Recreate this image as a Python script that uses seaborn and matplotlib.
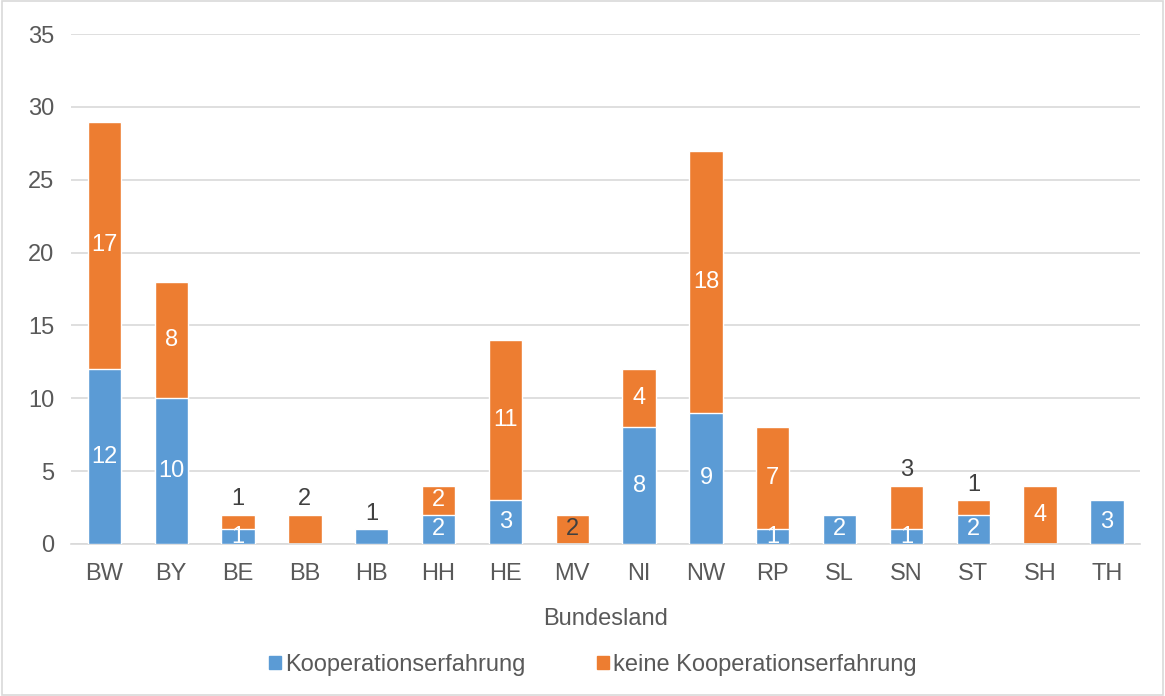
import pandas as pd
import seaborn as sns
import matplotlib.pyplot as plt
from matplotlib.patches import Patch, Rectangle

laender = ["BW", "BY", "BE", "BB", "HB", "HH", "HE", "MV",
           "NI", "NW", "RP", "SL", "SN", "ST", "SH", "TH"]
mit_koop = [12, 10, 1, 0, 1, 2, 3, 0, 8, 9, 1, 2, 1, 2, 0, 3]
ohne_koop = [17, 8, 1, 2, 0, 2, 11, 2, 4, 18, 7, 0, 3, 1, 4, 0]

# labels Excel placed above the bar instead of inside
label_oben_koop = ["HB"]
label_oben_ohne = ["BE", "BB", "SN", "ST"]

blau = "#5b9bd5"
orange = "#ed7d31"
grau = "#595959"

df = pd.DataFrame({"Bundesland": laender,
                   "Kooperationserfahrung": mit_koop,
                   "keine Kooperationserfahrung": ohne_koop})
df["gesamt"] = df["Kooperationserfahrung"] + df["keine Kooperationserfahrung"]

sns.set_style("white")
plt.rcParams["font.family"] = ["Liberation Sans", "DejaVu Sans"]

fig = plt.figure(figsize=(11.65, 6.96), dpi=100)
ax = fig.add_axes([0.0609, 0.2184, 0.918, 0.7326])

# stacked: total in orange, blue drawn over it
sns.barplot(data=df, x="Bundesland", y="gesamt", color=orange, width=0.5,
            saturation=1, ax=ax, zorder=2)
sns.barplot(data=df, x="Bundesland", y="Kooperationserfahrung", color=blau,
            width=0.5, saturation=1, ax=ax, zorder=3)

fs = 17
for i, row in df.iterrows():
    b = row["Kooperationserfahrung"]
    o = row["keine Kooperationserfahrung"]
    land = row["Bundesland"]
    if b > 0:
        if land in label_oben_koop:
            ax.text(i, b + 0.3, str(b), ha="center", va="bottom", fontsize=fs,
                    color="#404040", zorder=5)
        else:
            ax.text(i, b / 2, str(b), ha="center", va="center", fontsize=fs,
                    color="white", zorder=5)
    if o > 0:
        if land in label_oben_ohne:
            ax.text(i, b + o + 0.3, str(o), ha="center", va="bottom", fontsize=fs,
                    color="#404040", zorder=5)
        elif land == "MV":
            ax.text(i, b + o / 2, str(o), ha="center", va="center", fontsize=fs,
                    color="#404040", zorder=5)
        else:
            ax.text(i, b + o / 2, str(o), ha="center", va="center", fontsize=fs,
                    color="white", zorder=5)

ax.set_ylim(0, 35)
ax.set_xlim(-0.5, len(laender) - 0.5)
ax.set_yticks(range(0, 36, 5))
ax.yaxis.grid(True, color="#d9d9d9", linewidth=1.2, zorder=0)
ax.set_axisbelow(True)
for s in ["top", "right", "left"]:
    ax.spines[s].set_visible(False)
ax.spines["bottom"].set_color("#d9d9d9")
ax.spines["bottom"].set_linewidth(1.2)
ax.tick_params(axis="y", length=0, labelsize=fs, colors=grau, pad=12)
ax.tick_params(axis="x", length=0, labelsize=fs, colors=grau, pad=14)
ax.set_xlabel("Bundesland", fontsize=fs, color=grau, labelpad=16)
ax.set_ylabel("")

handles = [Patch(color=blau, label="Kooperationserfahrung"),
           Patch(color=orange, label="keine Kooperationserfahrung")]
fig.legend(handles=handles, loc="center", bbox_to_anchor=(0.509, 0.045), ncol=2,
           frameon=False, fontsize=fs, labelcolor=grau, handlelength=0.5,
           handleheight=0.5, handletextpad=0.2, columnspacing=3.0)

fig.patches.append(Rectangle((0.002, 0.002), 0.996, 0.996, transform=fig.transFigure,
                             fill=False, edgecolor="#d9d9d9", linewidth=1.2))

fig.savefig("out.png", dpi=100)
